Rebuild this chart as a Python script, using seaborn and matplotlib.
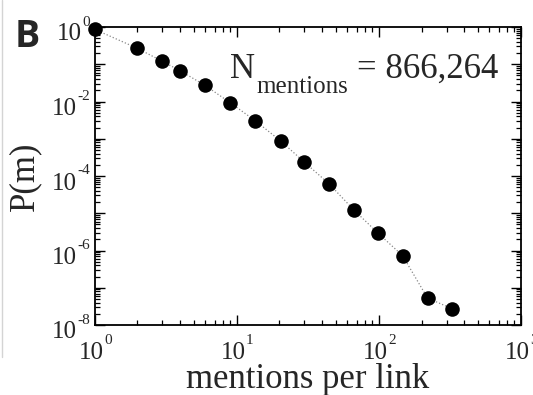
import numpy as np
import matplotlib
matplotlib.use("Agg")
import matplotlib.pyplot as plt
import matplotlib.ticker as mticker
from matplotlib.lines import Line2D
from matplotlib.transforms import blended_transform_factory, offset_copy
import seaborn as sns

# data
mentions = [1, 2, 3, 4, 6, 9, 13.5, 20.4, 30, 44.6, 66.8, 99, 147, 220, 327]
prob = [0.87, 0.268, 0.12, 0.067, 0.027, 0.0093, 0.00305, 8.7e-4, 2.34e-4,
        6.2e-5, 1.22e-5, 2.9e-6, 7.25e-7, 5.3e-8, 2.74e-8]
x_label = "mentions per link"
y_label = "P(m)"
n_text = "866,264"

sns.set_style("ticks")
plt.rcParams['font.family'] = ['Liberation Serif', 'DejaVu Serif']

W, H = 533, 395
fig = plt.figure(figsize=(W / 100, H / 100), dpi=100)
L, R, T, B = 94.5, 521, 27, 325
ax = fig.add_axes([L / W, 1 - B / H, (R - L) / W, (B - T) / H])

sns.lineplot(x=mentions, y=prob, ax=ax, color='#888888', linestyle=':',
             linewidth=0.9, sort=True)
sns.scatterplot(x=mentions, y=prob, ax=ax, color='black', s=110,
                linewidth=0, zorder=3, clip_on=False)

ax.set_xscale('log')
ax.set_yscale('log')
ax.set_xlim(1, 1000)
ax.set_ylim(1e-8, 1)

ax.xaxis.set_major_locator(mticker.LogLocator(base=10, numticks=20))
ax.yaxis.set_major_locator(mticker.LogLocator(base=10, numticks=20))
ax.xaxis.set_minor_locator(mticker.LogLocator(base=10, subs=np.arange(2, 10), numticks=100))
ax.yaxis.set_minor_locator(mticker.LogLocator(base=10, subs=np.arange(2, 10), numticks=100))
ax.xaxis.set_minor_formatter(mticker.NullFormatter())
ax.yaxis.set_minor_formatter(mticker.NullFormatter())

ax.tick_params(which='both', direction='in', top=True, right=True,
               color='black', labelbottom=False, labelleft=False)
ax.tick_params(which='major', length=7, width=1.0)
ax.tick_params(which='minor', length=3.5, width=0.9)
for sp in ax.spines.values():
    sp.set_linewidth(1.3)
    sp.set_color('black')

# tick labels "10" with raised exponent, placed at the axis tick positions
renderer = fig.canvas.get_renderer()
BASE_FS, SUP_FS = 18, 11
tx = blended_transform_factory(ax.transData, ax.transAxes)
for v in ax.get_xticks():
    if v < 1 or v > 1000:
        continue
    e = int(round(np.log10(v)))
    ax.text(v, 0, '10', transform=offset_copy(tx, fig=fig, x=9, y=-34, units='dots'),
            ha='right', va='baseline', fontsize=BASE_FS, clip_on=False)
    ax.text(v, 0, str(e), transform=offset_copy(tx, fig=fig, x=9.5, y=-18.5, units='dots'),
            ha='left', va='baseline', fontsize=SUP_FS, clip_on=False)

ty = blended_transform_factory(ax.transAxes, ax.transData)
for v in ax.get_yticks():
    if v < 1e-8 or v > 1:
        continue
    e = int(round(np.log10(v)))
    if e % 2 != 0:
        continue
    s = ax.text(0, v, str(e).replace('\u2212', '-'),
                transform=offset_copy(ty, fig=fig, x=-4.5, y=1.5, units='dots'),
                ha='right', va='baseline', fontsize=SUP_FS, clip_on=False)
    w = s.get_window_extent(renderer=renderer).width
    ax.text(0, v, '10', transform=offset_copy(ty, fig=fig, x=-4.5 - w - 0.5, y=-13.5, units='dots'),
            ha='right', va='baseline', fontsize=BASE_FS, clip_on=False)

ax.set_xlabel(x_label, fontsize=25)
ax.set_ylabel(y_label, fontsize=25)
ax.xaxis.set_label_coords(0.5, -38 / (B - T))
ax.yaxis.set_label_coords((41 - L) / (R - L), 0.5)

# annotation
fig.text(230 / W, 1 - 78 / H, 'N', fontsize=25, va='baseline', ha='left')
fig.text(256.7 / W, 1 - 93 / H, 'mentions', fontsize=18, va='baseline', ha='left')
fig.text(357 / W, 1 - 78 / H, '= ' + n_text, fontsize=25, va='baseline', ha='left')

# panel letter
fig.text(15 / W, 1 - 47 / H, 'B', fontsize=27, fontweight='bold',
         family=['Open Sans', 'DejaVu Sans'], va='baseline', ha='left')

# faint separator at left edge
fig.add_artist(Line2D([2 / W, 2 / W], [1 - 357 / H, 1], color='#d4d4d4', lw=1))

fig.savefig('out.png', dpi=100)
